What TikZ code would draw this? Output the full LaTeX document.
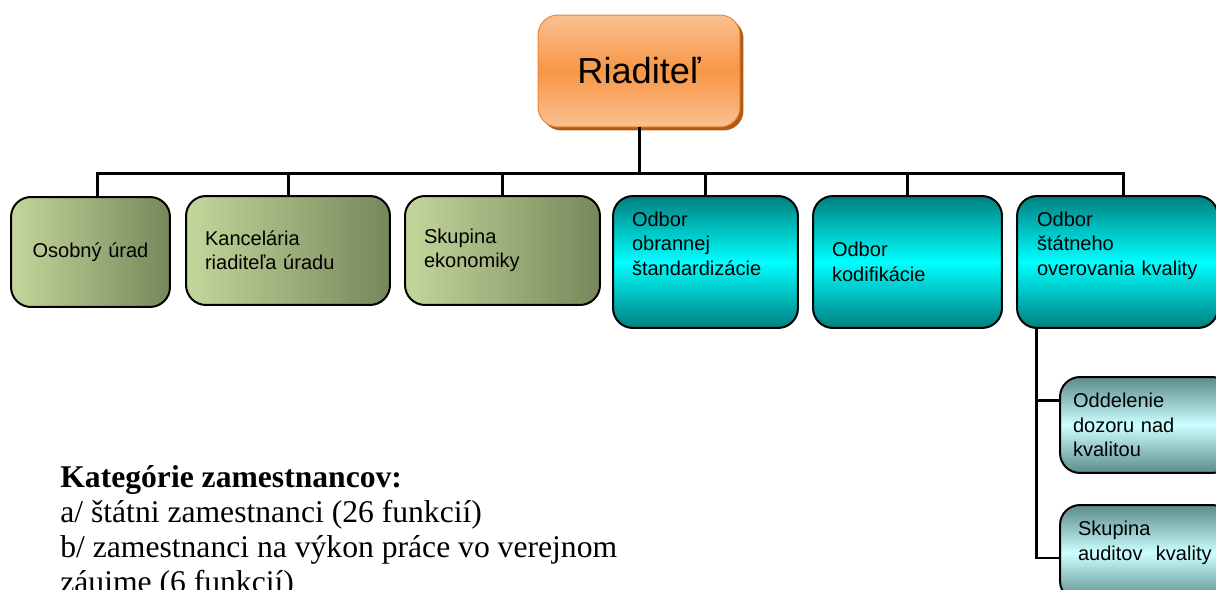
\documentclass[tikz,border=0pt]{standalone}
\usepackage{fontspec}
\setmainfont{Liberation Sans}
\newfontfamily\serifrm{Liberation Serif}

\definecolor{greenlight}{HTML}{C4D79B}
\definecolor{greendark}{HTML}{76875A}
\definecolor{tealdark}{HTML}{007F7F}
\definecolor{cyanbright}{HTML}{00FFFF}
\definecolor{subtop}{HTML}{5B8B8B}
\definecolor{submid}{HTML}{CCFFFF}
\definecolor{orangemid}{HTML}{F79646}
\definecolor{orangelight}{HTML}{FAC090}
\definecolor{orangeedge}{HTML}{E9883A}
\definecolor{orangeshadow}{HTML}{B35A10}

\begin{document}
\begin{tikzpicture}[x=0.02cm, y=-0.02cm,
  unit/.style={draw=black, line width=0.04cm, rounded corners=0.4cm,
    inner xsep=0.38cm, inner ysep=0pt, align=left,
    font=\fontsize{11.4}{13.9}\selectfont},
  staffbox/.style={unit, left color=greenlight, right color=greendark},
  deptbox/.style={unit, top color=tealdark, bottom color=tealdark,
    middle color=cyanbright},
  sectionbox/.style={unit, top color=subtop, bottom color=subtop,
    middle color=submid},
  orgline/.style={line width=0.06cm}
]
\useasboundingbox (0,0) rectangle (1216,590);
\clip (0,0) rectangle (1216,590);

% Riaditel
\node[draw=orangeedge, line width=0.02cm, rounded corners=0.4cm,
  top color=orangelight, bottom color=orangelight, middle color=orangemid,
  preaction={fill=orangeshadow, transform canvas={xshift=0.07cm, yshift=-0.07cm}},
  minimum width=4.04cm, minimum height=2.24cm, inner sep=0pt,
  font=\fontsize{20.6}{24}\selectfont] (riaditel) at (639,71) {Riaditeľ};

% first row
\node[staffbox, align=center, text width=2.42cm, minimum height=2.2cm]
  (osobny) at (90.5,252) {Osobný úrad};
\node[staffbox, text width=3.32cm, minimum height=2.18cm]
  (kancelaria) at (288,250.5) {Kancelária\\riaditeľa úradu};
\node[staffbox, text width=3.14cm, minimum height=2.18cm]
  (ekonomika) at (502.5,250.5) {Skupina\\ekonomiky};
\node[deptbox, text width=2.94cm, minimum height=2.64cm]
  (obrana) at (705.5,262) {Odbor\\obrannej\\štandardizácie\\[0.25cm]\mbox{}};
\node[deptbox, text width=3.02cm, minimum height=2.64cm]
  (kodifikacia) at (907.5,262) {Odbor\\kodifikácie};
\node[deptbox, inner xsep=0.4cm, text width=3.22cm, minimum height=2.64cm]
  (overovanie) at (1117.5,262) {Odbor\\štátneho\\overovania kvality\\[0.25cm]\mbox{}};

% sections
\node[sectionbox, inner xsep=0.26cm, text width=2.92cm, minimum height=1.92cm]
  (dozor) at (1146,425) {Oddelenie\\dozoru nad\\kvalitou};
\node[sectionbox, inner xsep=0.36cm, text width=2.72cm, minimum height=1.92cm]
  (audit) at (1146,553) {Skupina\\auditov\ \ kvality\\\mbox{}};

% connectors
\coordinate (bar) at (640,174);
\draw[orgline] (riaditel.south) -- (riaditel.south |- bar);
\draw[orgline] ([xshift=0.13cm]osobny.north) |- (bar) -| ([xshift=0.11cm]overovanie.north);
\foreach \b in {kancelaria, ekonomika, obrana, kodifikacia}
  \draw[orgline] (\b.north) -- (\b.north |- bar);
\draw[orgline] ([xshift=0.4cm]overovanie.south west) |- ([yshift=0.5cm]dozor.west);
\draw[orgline] ([xshift=0.4cm]overovanie.south west) |- ([yshift=-0.1cm]audit.west);

% employee categories
\node[anchor=base west, align=left, inner sep=0pt,
  font=\serifrm\fontsize{18}{19.9}\selectfont] (kategorie) at (60,592)
  {\textbf{Kategórie zamestnancov:}\\
   a/ štátni zamestnanci (26 funkcií)\\
   b/ zamestnanci na výkon práce vo verejnom\\
   záujme (6 funkcií)};
\end{tikzpicture}
\end{document}
